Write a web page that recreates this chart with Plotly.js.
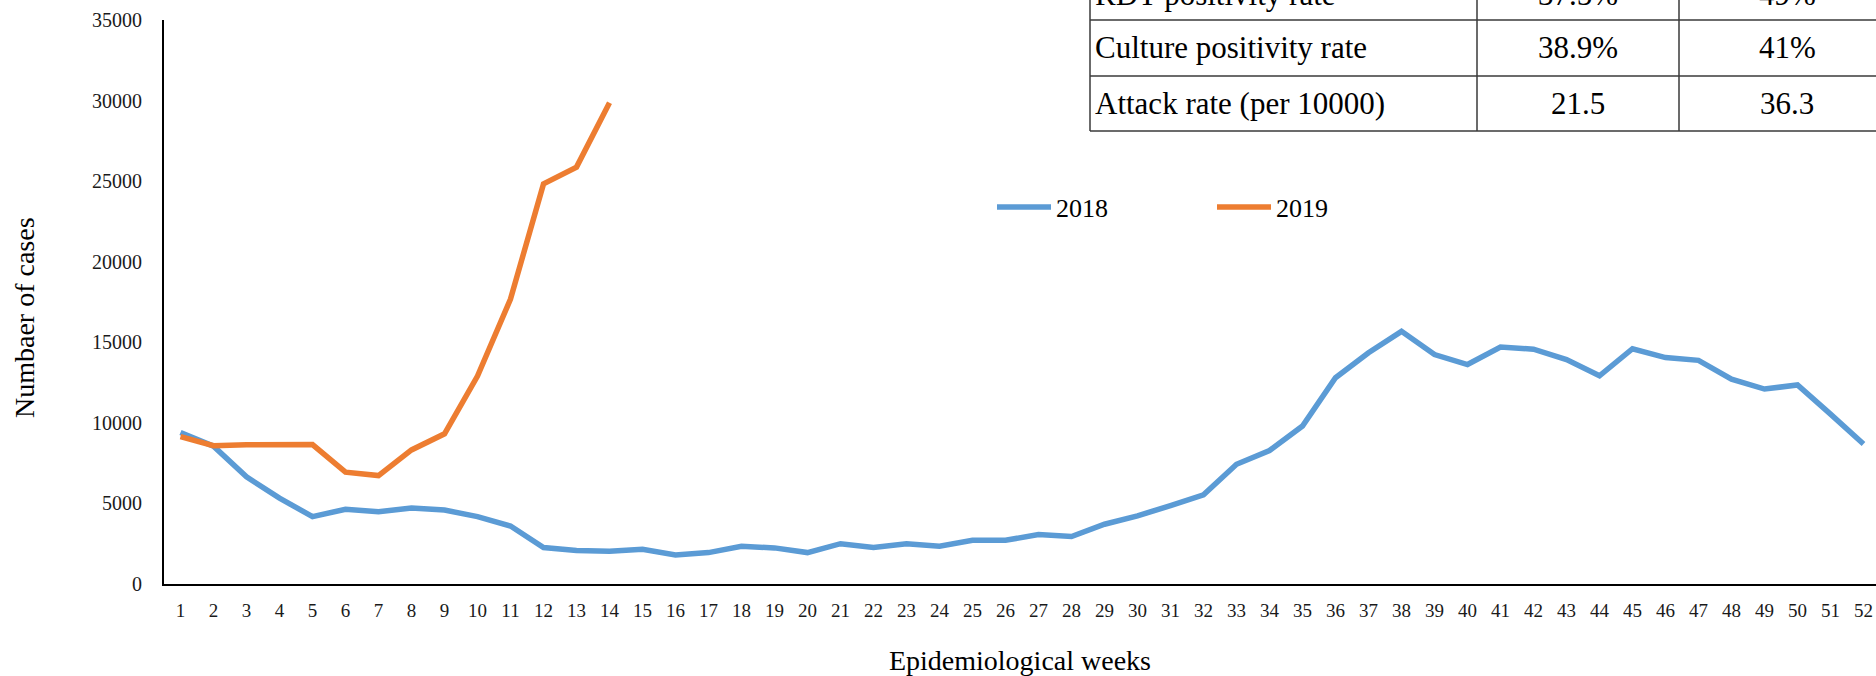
<!DOCTYPE html>
<html>
<head>
<meta charset="utf-8">
<script src="https://cdn.plot.ly/plotly-3.0.1.min.js"></script>
<style>
html,body{margin:0;padding:0;background:#fff;}
#chart{width:1876px;height:676px;}
</style>
</head>
<body>
<div id="chart"></div>
<script>
// ---- data ----
var weeks = [1,2,3,4,5,6,7,8,9,10,11,12,13,14,15,16,17,18,19,20,21,22,23,24,25,26,
             27,28,29,30,31,32,33,34,35,36,37,38,39,40,41,42,43,44,45,46,47,48,49,50,51,52];
var weekLabels = ["1","2","3","4","5","6","7","8","9","10","11","12","13","14","15","16","17","18","19","20","21","22","23","24","25","26",
                  "27","28","29","30","31","32","33","34","35","36","37","38","39","40","41","42","43","44","45","46","47","48","49","50","51","52"];
var cases2018 = [9400, 8550, 6650, 5330, 4180, 4640, 4480, 4720, 4590, 4180, 3600, 2260, 2080, 2040, 2150, 1800, 1950, 2340, 2240, 1950,
                 2500, 2270, 2500, 2350, 2710, 2710, 3070, 2950, 3710, 4230, 4870, 5530, 7430, 8280, 9800, 12800, 14350, 15680, 14240, 13620,
                 14700, 14570, 13930, 12920, 14600, 14050, 13880, 12710, 12100, 12350, 10540, 8690];
var weeks2019 = [1,2,3,4,5,6,7,8,9,10,11,12,13,14];
var cases2019 = [9150, 8580, 8640, 8640, 8650, 6940, 6730, 8320, 9320, 12900, 17680, 24830, 25870, 29860];
var yTicks = [0, 5000, 10000, 15000, 20000, 25000, 30000, 35000];
var yTickLabels = ["0","5000","10000","15000","20000","25000","30000","35000"];

var tableRows = ["RDT positivity rate", "Culture positivity rate", "Attack rate (per 10000)"];
var table2018 = ["37.5%", "38.9%", "21.5"];
var table2019 = ["49%", "41%", "36.3"];

// ---- layout geometry ----
var W = 1876, H = 676;
var M = {l:164, r:0, t:20, b:92};
var PW = W - M.l - M.r, PH = H - M.t - M.b;
function px(x){ return (x - M.l) / PW; }
function py(y){ return (H - M.b - y) / PH; }

var FONT = "Liberation Serif, Times New Roman, serif";
var lineCol = "#3a3a3a";

var traces = [
  {x: weeks, y: cases2018, name: "2018", type: "scatter", mode: "lines",
   line: {color: "#5B9BD5", width: 5.5, shape: "linear"}, hoverinfo: "x+y"},
  {x: weeks2019, y: cases2019, name: "2019", type: "scatter", mode: "lines",
   line: {color: "#ED7D31", width: 5.5, shape: "linear"}, hoverinfo: "x+y"}
];

// table drawn as shapes + annotations (cropped at the page edge)
var rowEdges = [-30, 20, 76, 131];
var colEdges = [1090, 1477, 1679, 1895];
var shapes = [];
rowEdges.forEach(function(r){
  shapes.push({type:"line", xref:"paper", yref:"paper", x0:px(colEdges[0]), x1:px(colEdges[3]),
               y0:py(r), y1:py(r), line:{color:lineCol, width:1.5}});
});
colEdges.forEach(function(c){
  shapes.push({type:"line", xref:"paper", yref:"paper", x0:px(c), x1:px(c),
               y0:py(rowEdges[0]-40), y1:py(rowEdges[3]), line:{color:lineCol, width:1.5}});
});
var annotations = [];
tableRows.forEach(function(t, i){
  var yc = (rowEdges[i] + rowEdges[i+1]) / 2;
  annotations.push({text:t, xref:"paper", yref:"paper", x:px(colEdges[0]+3), y:py(yc),
    xanchor:"left", yanchor:"middle", showarrow:false, font:{family:FONT, size:31, color:"#000"}});
  annotations.push({text:table2018[i], xref:"paper", yref:"paper", x:px((colEdges[1]+colEdges[2])/2), y:py(yc),
    xanchor:"center", yanchor:"middle", showarrow:false, font:{family:FONT, size:31, color:"#000"}});
  annotations.push({text:table2019[i], xref:"paper", yref:"paper", x:px((colEdges[2]+colEdges[3])/2), y:py(yc),
    xanchor:"center", yanchor:"middle", showarrow:false, font:{family:FONT, size:31, color:"#000"}});
});
// y-axis title (placed as in the reference, a little below the plot centre)
annotations.push({text:"Numbaer of cases", xref:"paper", yref:"paper", x:px(24), y:py(318),
  xanchor:"center", yanchor:"middle", textangle:-90, showarrow:false,
  font:{family:FONT, size:28, color:"#000"}});

var layout = {
  width: W, height: H,
  margin: {l:M.l, r:M.r, t:M.t, b:M.b, pad:0},
  paper_bgcolor: "#fff", plot_bgcolor: "#fff",
  font: {family: FONT, color: "#000"},
  showlegend: true,
  legend: {orientation: "h", x: px(992), y: py(207), xanchor: "left", yanchor: "middle",
           font: {family: FONT, size: 26, color: "#000"}, bgcolor: "rgba(0,0,0,0)",
           entrywidth: 151, entrywidthmode: "pixels", itemwidth: 54, traceorder: "normal"},
  xaxis: {
    range: [0.5, 0.5 + PW / 33], tickmode: "array", tickvals: weeks, ticktext: weekLabels,
    showgrid: false, zeroline: false, showline: true, linecolor: "#000", linewidth: 2,
    ticks: "", ticklabelstandoff: 8, tickfont: {family: FONT, size: 19, color: "#1a1a1a"},
    title: {text: "Epidemiological weeks", font: {family: FONT, size: 28, color: "#000"}, standoff: 37},
    automargin: false, fixedrange: true
  },
  yaxis: {
    range: [0, 35000], tickmode: "array", tickvals: yTicks, ticktext: yTickLabels,
    showgrid: false, zeroline: false, showline: true, linecolor: "#000", linewidth: 2,
    ticks: "", ticklabelstandoff: 16, tickfont: {family: FONT, size: 20, color: "#1a1a1a"},
    automargin: false, fixedrange: true
  },
  shapes: shapes,
  annotations: annotations
};

Plotly.newPlot("chart", traces, layout, {displayModeBar: false, staticPlot: true});
</script>
</body>
</html>
